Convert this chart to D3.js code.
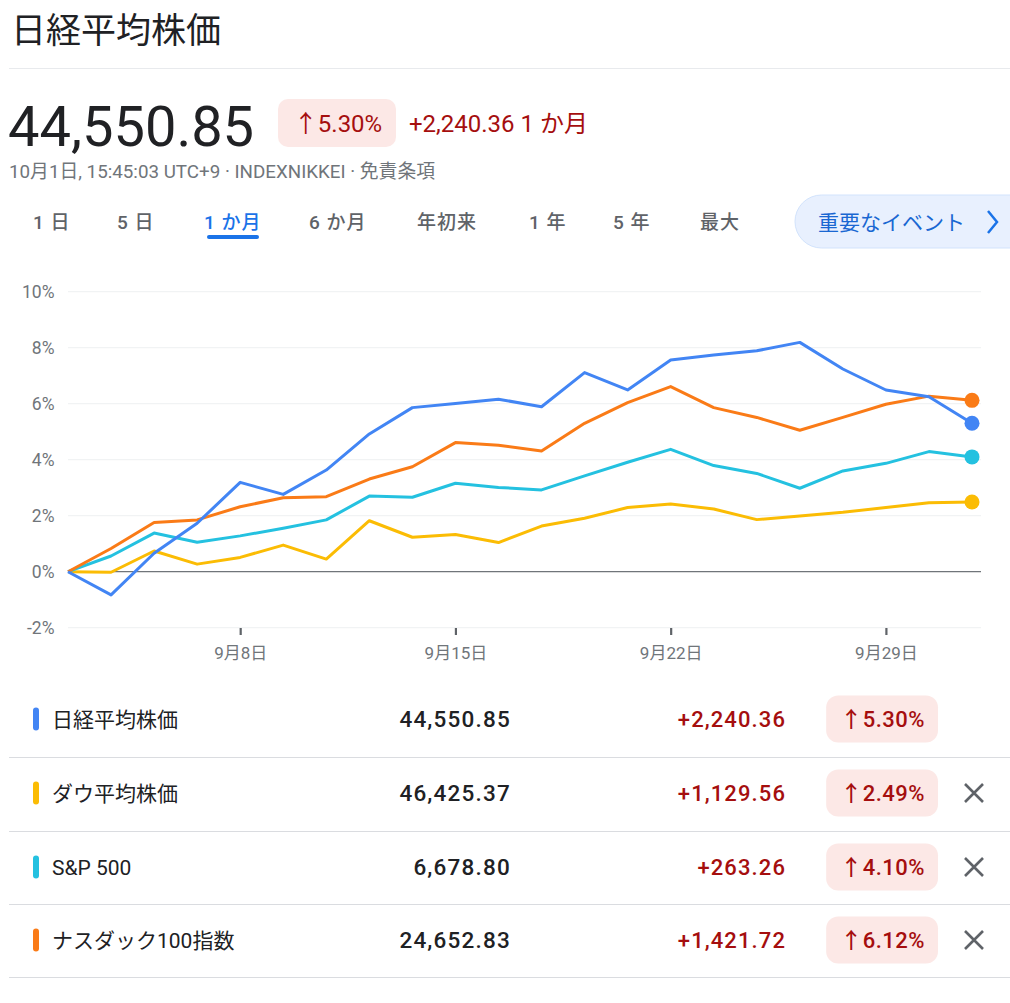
<!DOCTYPE html>
<html><head><meta charset="utf-8">
<script src="https://cdn.jsdelivr.net/npm/d3@7"></script>
<style>
html,body{margin:0;padding:0;background:#fff;}
svg{display:block;font-family:Roboto,"Noto Sans CJK JP",sans-serif;}
</style></head>
<body>
<svg id="c" width="1010" height="1003"></svg>
<script>
// ---- data ----
const dates = ["9月2日","9月3日","9月4日","9月5日","9月8日","9月9日","9月10日","9月11日","9月12日","9月15日","9月16日","9月17日","9月18日","9月19日","9月22日","9月23日","9月24日","9月25日","9月26日","9月29日","9月30日","10月1日"];
const tickDates = ["9月8日","9月15日","9月22日","9月29日"];
const yTicks = [-2,0,2,4,6,8,10];
const seriesNames = ["日経平均株価","ダウ平均株価","S&P 500","ナスダック100指数"];
const seriesColors = ["#4285f4","#fbbc04","#24c1e0","#fa7b17"];
const nikkei = [0,-0.83,0.66,1.73,3.19,2.76,3.63,4.92,5.86,6.01,6.16,5.89,7.11,6.49,7.56,7.74,7.89,8.19,7.24,6.49,6.25,5.30];
const dow    = [0,-0.02,0.74,0.27,0.51,0.95,0.45,1.82,1.23,1.33,1.04,1.63,1.91,2.29,2.42,2.24,1.86,1.99,2.12,2.29,2.46,2.49];
const sp500  = [0,0.56,1.38,1.05,1.28,1.55,1.85,2.70,2.66,3.16,3.01,2.92,3.42,3.91,4.37,3.79,3.51,2.98,3.60,3.87,4.29,4.10];
const nasdaq = [0,0.83,1.76,1.85,2.32,2.64,2.68,3.31,3.75,4.61,4.52,4.31,5.30,6.04,6.61,5.86,5.51,5.05,5.51,5.98,6.27,6.12];
const prices = ["44,550.85","46,425.37","6,678.80","24,652.83"];
const changes = ["+2,240.36","+1,129.56","+263.26","+1,421.72"];
const pcts = ["5.30%","2.49%","4.10%","6.12%"];
const tabs = ["1 日","5 日","1 か月","6 か月","年初来","1 年","5 年","最大"];
const activeTab = "1 か月";

const svg = d3.select("#c");
const RED = "#a50e0e", GRAY = "#5f6368";
const FONT = 'Roboto,"Noto Sans CJK JP",sans-serif';

// ---- header ----
svg.append("text").attr("x",11).attr("y",43).attr("font-size",35).attr("fill","#202124").text("日経平均株価");
svg.append("line").attr("x1",9).attr("x2",1010).attr("y1",68.5).attr("y2",68.5).attr("stroke","#e8eaed");
svg.append("text").attr("x",8).attr("y",146).attr("font-size",56).attr("fill","#202124").text(prices[0]);
svg.append("rect").attr("x",278).attr("y",99).attr("width",118).attr("height",48).attr("rx",10).attr("fill","#fce8e6");
svg.append("text").attr("x",338).attr("y",132).attr("text-anchor","middle").attr("font-size",24).attr("fill",RED).text("↑" + pcts[0]);
svg.append("text").attr("x",409).attr("y",132).attr("font-size",24).attr("fill",RED).text(changes[0] + " 1 か月");
svg.append("text").attr("x",9).attr("y",178).attr("font-size",18.8).attr("fill","#70757a").text("10月1日, 15:45:03 UTC+9 · INDEXNIKKEI · 免責条項");

// tabs
const tabX = [33,117,204,309,417,529,613,700];
tabs.forEach((t,i)=>{
  svg.append("text").attr("x",tabX[i]).attr("y",229).attr("font-size",19).attr("font-weight",500)
    .attr("letter-spacing",1).attr("fill", t===activeTab ? "#1a73e8" : GRAY).text(t);
  if(t===activeTab){
    svg.append("rect").attr("x",207).attr("y",235).attr("width",52).attr("height",4).attr("rx",2).attr("fill","#1a73e8");
  }
});
svg.append("rect").attr("x",795).attr("y",195).attr("width",250).attr("height",53).attr("rx",26.5)
  .attr("fill","#e8f0fe").attr("stroke","#d2e3fc");
svg.append("text").attr("x",818).attr("y",230).attr("font-size",21).attr("fill","#1967d2").text("重要なイベント");
svg.append("path").attr("d","M988,211 L997,222 L988,233").attr("fill","none").attr("stroke","#1a73e8").attr("stroke-width",2.5);

// ---- chart ----
const x = d3.scalePoint().domain(dates).range([68,972]);
const y = d3.scaleLinear().domain([-2,10]).range([627.7,291.7]);
const gGrid = svg.append("g");
yTicks.forEach(t=>{
  gGrid.append("line").attr("x1",68).attr("x2",981).attr("y1",y(t)).attr("y2",y(t))
    .attr("stroke", t===0 ? "#70757a" : "#f1f3f4").attr("stroke-width", t===0 ? 1.3 : 1.2);
  gGrid.append("text").attr("x",54.5).attr("y",y(t)).attr("dy","0.35em").attr("text-anchor","end")
    .attr("font-size",17.5).attr("fill","#70757a").text(t + "%");
});
const xAxis = svg.append("g").attr("transform","translate(0,628)")
  .call(d3.axisBottom(x).tickValues(tickDates).tickSize(7).tickPadding(12));
xAxis.select(".domain").remove();
xAxis.selectAll(".tick line").attr("stroke",GRAY).attr("stroke-width",2.2);
xAxis.selectAll(".tick text").attr("font-size",17).attr("fill","#70757a").attr("font-family",FONT);

const allSeries = [nikkei, dow, sp500, nasdaq];
const line = d3.line().x((d,i)=>x(dates[i])).y(d=>y(d));
const drawOrder = [1,2,3,0];
drawOrder.forEach(k=>{
  svg.append("path").datum(allSeries[k]).attr("d",line).attr("fill","none")
    .attr("stroke",seriesColors[k]).attr("stroke-width",3).attr("stroke-linejoin","round");
});
drawOrder.forEach(k=>{
  const s = allSeries[k];
  svg.append("circle").attr("cx",x(dates[s.length-1])).attr("cy",y(s[s.length-1])).attr("r",7.5).attr("fill",seriesColors[k]);
});

// ---- table ----
const rowY = [719,793,867,940];
const sepY = [757,831,904,977];
sepY.forEach(v=>svg.append("line").attr("x1",9).attr("x2",1010).attr("y1",v+0.5).attr("y2",v+0.5).attr("stroke","#dadce0"));
seriesNames.forEach((n,i)=>{
  const cy = rowY[i];
  svg.append("rect").attr("x",33).attr("y",cy-11.5).attr("width",6).attr("height",23).attr("rx",3).attr("fill",seriesColors[i]);
  svg.append("text").attr("x",52).attr("y",cy).attr("dy","0.36em").attr("font-size",21).attr("font-weight",400).attr("fill","#202124").text(n);
  svg.append("text").attr("x",511).attr("y",cy).attr("dy","0.36em").attr("text-anchor","end").attr("font-size",22.5)
    .attr("font-weight",500).attr("letter-spacing",1.2).attr("fill","#202124").text(prices[i]);
  svg.append("text").attr("x",786).attr("y",cy).attr("dy","0.36em").attr("text-anchor","end").attr("font-size",22)
    .attr("font-weight",500).attr("letter-spacing",1.1).attr("fill",RED).text(changes[i]);
  const badge = svg.append("rect").attr("y",cy-23.5).attr("height",47).attr("rx",12).attr("fill","#fce8e6");
  const bt = svg.append("text").attr("x",925).attr("y",cy).attr("dy","0.36em").attr("text-anchor","end").attr("font-size",22)
    .attr("font-weight",500).attr("letter-spacing",0.5).attr("fill",RED).text("↑" + pcts[i]);
  const w = bt.node().getComputedTextLength();
  badge.attr("x",925-w-14).attr("width",w+27);
  if(i>0){
    svg.append("path").attr("d",`M965,${cy-9} L983,${cy+9} M983,${cy-9} L965,${cy+9}`)
      .attr("stroke",GRAY).attr("stroke-width",2.6);
  }
});
</script>
</body></html>
